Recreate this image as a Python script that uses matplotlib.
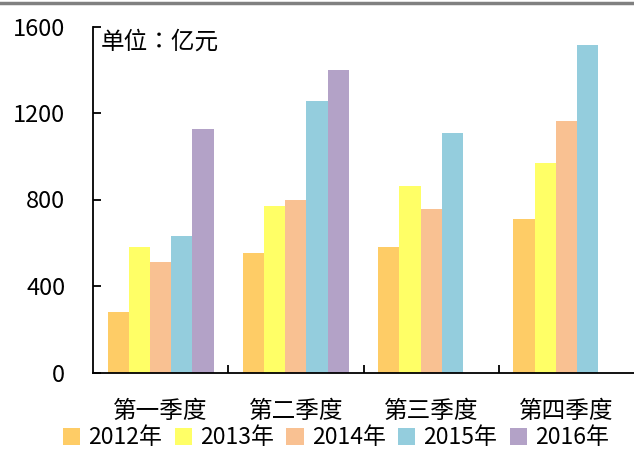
import numpy as np
import matplotlib
matplotlib.use("Agg")
from matplotlib import pyplot as plt
from matplotlib.lines import Line2D
from matplotlib.patches import Patch

plt.rcParams['font.family'] = ['Noto Sans CJK SC', 'DejaVu Sans']

# quarterly values, 亿元 (no 2016 figures yet for Q3/Q4)
quarters = ['第一季度', '第二季度', '第三季度', '第四季度']
years = ['2012年', '2013年', '2014年', '2015年', '2016年']
v2012 = [280, 554, 580, 710]
v2013 = [579, 771, 864, 969]
v2014 = [512, 798, 756, 1163]
v2015 = [631, 1256, 1106, 1516]
v2016 = [1125, 1399, np.nan, np.nan]
yticks = [0, 400, 800, 1200, 1600]

colors = ['#FECC66', '#FFFF66', '#F9C192', '#94CDDD', '#B3A2C7']
series = [v2012, v2013, v2014, v2015, v2016]

fig = plt.figure(figsize=(6.34, 4.5), dpi=100)
ax = fig.add_axes([93/634, 1-372.5/450, 541/634, (372.5-26.5)/450])

x = np.arange(len(quarters))
w = 0.157
for i, vals in enumerate(series):
    ax.bar(x + (i-2)*w, vals, width=w, color=colors[i], linewidth=0)

ax.set_xlim(-0.5, 3.5)
ax.set_ylim(0, 1600)
ax.set_yticks(yticks)
ax.tick_params(axis='y', direction='in', length=6, width=1.3, pad=20, labelsize=17)

# boundary ticks between quarters, labels centred under each group
ax.set_xticks([0.5, 1.5, 2.5])
ax.set_xticklabels([])
ax.tick_params(axis='x', which='major', direction='in', length=6, width=1.3)
ax.set_xticks(x, minor=True)
ax.set_xticklabels(quarters, minor=True)
ax.tick_params(axis='x', which='minor', length=0, pad=20, labelsize=17)

for s in ['top', 'right']:
    ax.spines[s].set_visible(False)
for s in ['left', 'bottom']:
    ax.spines[s].set_linewidth(1.3)

ax.text(8/541, 0.955, '单位：亿元', transform=ax.transAxes, fontsize=17, va='center', ha='left',
        family=['Noto Sans CJK TC', 'DejaVu Sans'])

handles = [Patch(facecolor=c, edgecolor='none') for c in colors]
fig.legend(handles, years, loc='center', bbox_to_anchor=(0.53, 1-438/450), ncol=5,
           frameon=False, fontsize=16.5, handlelength=0.75, handleheight=0.75,
           handletextpad=0.35, columnspacing=0.55, borderaxespad=0, borderpad=0)

# grey rule across the top
fig.add_artist(Line2D([0, 1], [1-3/450, 1-3/450], color='#808080', lw=2.5))

fig.savefig('out.png', dpi=100)
